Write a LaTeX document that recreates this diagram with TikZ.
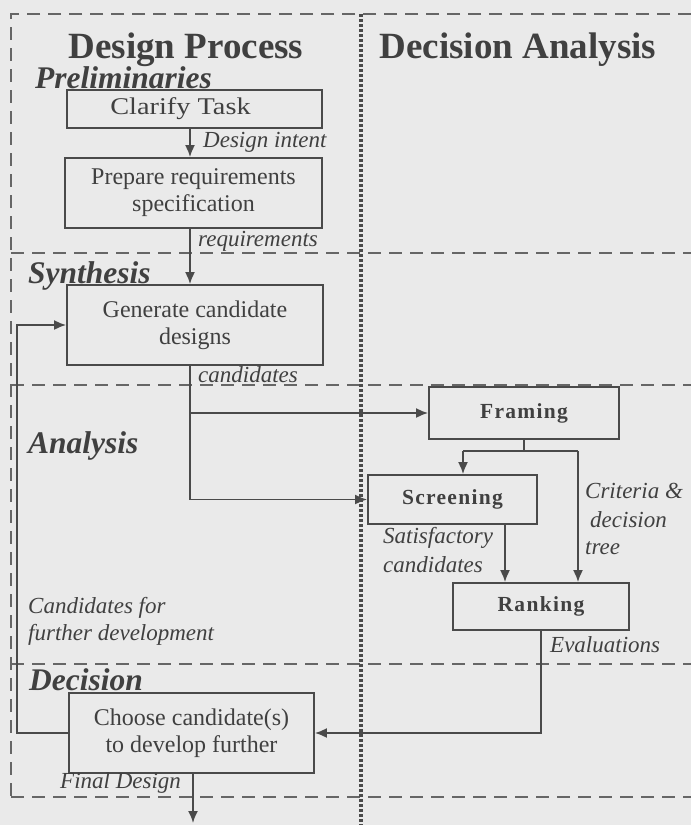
\documentclass[tikz,border=0pt]{standalone}
\usepackage{fontspec}
\setmainfont{Liberation Serif}
\newfontfamily\trackedbold{Liberation Serif}[LetterSpace=6]
\usetikzlibrary{arrows.meta}
\definecolor{paper}{HTML}{EAEAEA}
\definecolor{ink}{HTML}{404040}
\definecolor{rule}{HTML}{4A4A4A}
\definecolor{lane}{HTML}{666666}
\tikzset{
  stepbox/.style={draw=rule, line width=1.8pt, inner sep=0pt, align=center,
    text=ink, font=\fontsize{24}{27}\selectfont},
  dabox/.style={draw=rule, line width=1.8pt, inner sep=0pt, align=center,
    text=ink, font=\fontsize{21.5}{24}\trackedbold\bfseries},
  flow/.style={draw=rule, line width=1.8pt, -{Latex[length=12pt,width=10pt]}},
  wire/.style={draw=rule, line width=1.8pt},
  lanes/.style={draw=lane, line width=2pt, dash pattern=on 13pt off 8pt},
  divider/.style={draw=rule, line width=3.2pt, dash pattern=on 2.6pt off 2.4pt},
  colhead/.style={text=ink, font=\fontsize{37}{40}\selectfont\bfseries, anchor=base},
  phase/.style={text=ink, font=\fontsize{31.5}{34}\selectfont\bfseries\itshape, anchor=base west, inner sep=0pt},
  note/.style={text=ink, font=\fontsize{23}{27}\selectfont\itshape, anchor=base west, inner sep=0pt},
}
\begin{document}
\begin{tikzpicture}[x=1pt,y=-1pt]
  % page and background
  \fill[paper] (0,0) rectangle (691,825);
  \useasboundingbox (0,0) rectangle (691,825);

  % swim-lane frame
  \draw[lanes] (691,14) -- (11,14) -- (11,797);
  \draw[lanes] (11,253) -- (691,253);
  \draw[lanes] (11,385) -- (691,385);
  \draw[lanes] (11,664) -- (691,664);
  \draw[lanes] (11,797) -- (691,797);
  \draw[divider] (361,14) -- (361,825);

  % column headings
  \node[colhead, inner sep=1pt] (hdp) at (186,58) {Design Process};
  \node[colhead, inner sep=1pt] (hda) at (518,58) {Decision Analysis};

  % phase headings
  \node[phase] (pre) at (35,88) {Preliminaries};
  \node[phase] (syn) at (28,283) {Synthesis};
  \node[phase] (ana) at (28,453) {Analysis};
  \node[phase] (dec) at (29,690) {Decision};

  % design process steps
  \node[stepbox, minimum width=255pt, minimum height=38pt] (clarify) at (194.5,109)
    {\scalebox{1.18}[1]{Clarify Task}\hspace*{28pt}};
  \node[stepbox, minimum width=257pt, minimum height=70pt] (prepare) at (193.5,193)
    {Prepare requirements\\specification};
  \node[stepbox, minimum width=256pt, minimum height=80pt] (gen) at (195,325)
    {Generate candidate\\designs};
  \node[stepbox, minimum width=245pt, minimum height=80pt] (choose) at (191.5,733)
    {Choose candidate(s)\\to develop further};

  % decision analysis steps
  \node[dabox, minimum width=190pt, minimum height=52pt] (fram) at (524,413) {Framing};
  \node[dabox, minimum width=169pt, minimum height=49pt] (scr) at (452.5,499.5) {Screening};
  \node[dabox, minimum width=176pt, minimum height=47pt] (rank) at (541,606.5) {Ranking};

  % reference columns for the connectors
  \coordinate (spine) at (190,0);
  \coordinate (loop) at (17,0);
  \coordinate (fork) at (0,451);
  \coordinate (scrdrop) at (463,0);
  \coordinate (critdrop) at (578,0);
  \coordinate (satdrop) at (505,0);
  \coordinate (exit) at (193,823);

  % main design flow
  \draw[flow] (clarify.south -| spine) -- (prepare.north -| spine);
  \draw[flow] (prepare.south -| spine) -- (gen.north -| spine);
  \draw[flow] (gen.south -| spine) |- (fram.west);
  \draw[flow] (gen.south -| spine) |- (scr.west);

  % framing feeds screening and ranking
  \draw[wire] (fram.south) -- (fram.south |- fork);
  \draw[wire] (scrdrop |- fork) -- (critdrop |- fork);
  \draw[flow] (scrdrop |- fork) -- (scr.north -| scrdrop);
  \draw[flow] (critdrop |- fork) -- (rank.north -| critdrop);
  \draw[flow] (scr.south -| satdrop) -- (rank.north -| satdrop);

  % evaluations back to the decision
  \draw[flow] (rank.south) |- (choose.east);

  % iteration loop and final output
  \draw[flow] (choose.west) -| (loop |- gen.west) -- (gen.west);
  \draw[flow] (choose.south -| exit) -- (exit);

  % connector labels
  \node[note] (l1) at (203,147) {Design intent};
  \node[note] (l2) at (198,246) {requirements};
  \node[note] (l3) at (198,382) {candidates};
  \node[note] (l4) at (585,498) {Criteria \&};
  \node[note] (l5) at (590,527) {decision};
  \node[note] (l6) at (585,554) {tree};
  \node[note] (l7) at (383,543) {Satisfactory};
  \node[note] (l8) at (383,572) {candidates};
  \node[note] (l9) at (550,652) {Evaluations};
  \node[note] (l10) at (28,613) {Candidates for};
  \node[note] (l11) at (28,640) {further development};
  \node[note] (l12) at (60,788) {Final Design};
\end{tikzpicture}
\end{document}
